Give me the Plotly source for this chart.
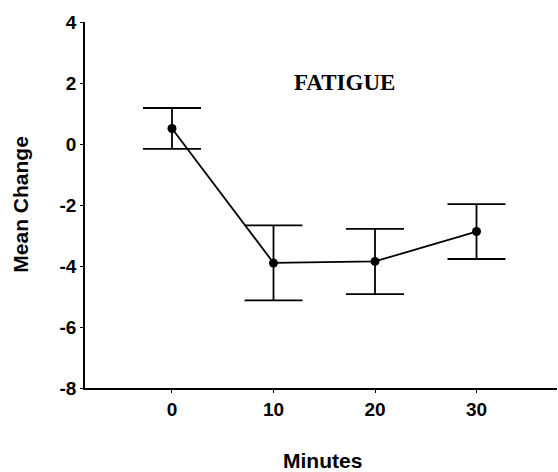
import plotly.graph_objects as go

minutes = [0, 10, 20, 30]
mean_change = [0.51, -3.9, -3.85, -2.87]
error = [0.67, 1.23, 1.07, 0.9]
x_ticks = [0, 10, 20, 30]
x_labels = ["0", "10", "20", "30"]
y_ticks = [-8, -6, -4, -2, 0, 2, 4]
y_labels = ["-8", "-6", "-4", "-2", "0", "2", "4"]

fig = go.Figure()
fig.add_trace(go.Scatter(
    x=minutes, y=mean_change,
    mode="lines+markers",
    line=dict(color="black", width=1.8),
    marker=dict(color="black", size=9),
    error_y=dict(type="data", array=error, visible=True,
                 color="black", thickness=1.8, width=29),
    showlegend=False,
))

tick_font = dict(size=19, weight="bold")
fig.update_layout(
    width=558, height=472,
    margin=dict(l=85, r=1, t=22, b=84, autoexpand=False),
    paper_bgcolor="white", plot_bgcolor="white",
    font=dict(family="Liberation Sans, Arial, sans-serif", color="black", size=18),
    xaxis=dict(range=[-8.57, 37.93], tickvals=x_ticks, ticktext=x_labels,
               showgrid=False, zeroline=False,
               showline=True, linecolor="black", linewidth=1.5,
               ticks="outside", ticklen=3, tickcolor="black",
               tickfont=tick_font),
    yaxis=dict(range=[-8, 4], tickvals=y_ticks, ticktext=y_labels,
               showgrid=False, zeroline=False,
               showline=True, linecolor="black", linewidth=1.5,
               ticks="outside", ticklen=3, tickcolor="black",
               tickfont=tick_font),
    annotations=[
        dict(text="<b>FATIGUE</b>", x=17.0, y=2.03, xref="x", yref="y",
             showarrow=False, font=dict(family="Liberation Serif, Times New Roman, serif", size=23)),
        dict(text="<b>Minutes</b>", x=0.503, y=-0.197, xref="paper", yref="paper",
             xanchor="center", yanchor="middle", showarrow=False, font=dict(size=21)),
        dict(text="<b>Mean Change</b>", x=-0.136, y=0.503, xref="paper", yref="paper",
             xanchor="center", yanchor="middle", textangle=-90, showarrow=False, font=dict(size=21)),
    ],
)

fig.write_html("out.html", config={"displayModeBar": False},
               post_script="document.body.style.margin='0';document.body.style.overflow='hidden';")
